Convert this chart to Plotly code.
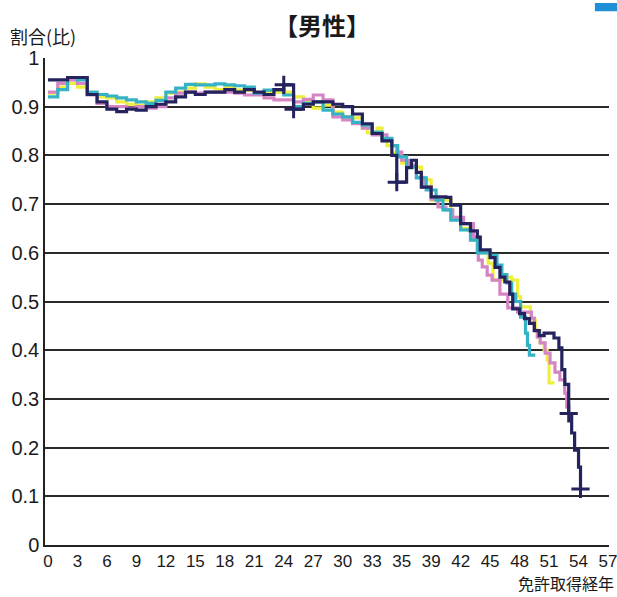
import plotly.graph_objects as go

# ---- data -------------------------------------------------------------
navy_x = [0, 1, 2, 3, 4, 5, 6, 7, 8, 9, 10, 11, 12, 13, 14, 15, 16, 17, 18, 19, 20,
          21, 22, 23, 24, 25, 26, 27, 28, 29, 30, 31, 32, 33, 34, 35, 35.5, 36.5, 37,
          37.5, 38, 39, 40.5, 41, 42, 43, 43.7, 44, 45, 45.5, 46, 46.5, 47, 47.3, 48,
          48.5, 49, 49.5, 50, 50.5, 51.5, 52, 52.3, 52.6, 53, 53.3, 53.6, 54, 54.2]
navy_y = [0.955, 0.955, 0.96, 0.96, 0.925, 0.91, 0.895, 0.89, 0.895, 0.893, 0.9, 0.905,
          0.91, 0.92, 0.93, 0.925, 0.93, 0.93, 0.935, 0.93, 0.935, 0.93, 0.925, 0.935,
          0.945, 0.895, 0.905, 0.91, 0.91, 0.905, 0.9, 0.885, 0.865, 0.845, 0.83, 0.80,
          0.745, 0.775, 0.79, 0.765, 0.735, 0.715, 0.714, 0.698, 0.66, 0.645, 0.632,
          0.606, 0.59, 0.57, 0.55, 0.54, 0.515, 0.485, 0.475, 0.465, 0.455, 0.44, 0.43,
          0.435, 0.425, 0.405, 0.36, 0.33, 0.27, 0.23, 0.195, 0.16, 0.115]

cyan_x = [0, 1, 2, 3, 4, 5, 6, 7, 8, 9, 10, 11, 12, 13, 14, 15, 16, 17, 18, 19, 20,
          21, 22, 23, 24, 25, 26, 27, 28, 29, 30, 31, 32, 33, 34, 35, 35.6, 36.5, 37.5,
          38.5, 39.5, 40.2, 41, 42, 43, 43.7, 44.3, 45, 45.7, 46.2, 46.7, 47.2, 47.6,
          48.1, 48.6, 48.8, 49, 49.6]
cyan_y = [0.92, 0.935, 0.96, 0.955, 0.93, 0.925, 0.922, 0.918, 0.914, 0.91, 0.907,
          0.913, 0.93, 0.938, 0.946, 0.945, 0.945, 0.947, 0.945, 0.943, 0.94, 0.928,
          0.934, 0.935, 0.924, 0.9, 0.907, 0.91, 0.893, 0.885, 0.879, 0.868, 0.862,
          0.848, 0.835, 0.82, 0.797, 0.776, 0.754, 0.729, 0.708, 0.688, 0.667, 0.647,
          0.626, 0.6, 0.6, 0.595, 0.575, 0.555, 0.538, 0.515, 0.5, 0.468, 0.435, 0.41,
          0.39, 0.39]

pink_x = [0, 1, 2, 3, 4, 5, 6, 7, 8, 9, 10, 11, 12, 13, 14, 15, 16, 17, 18, 19, 20,
          21, 22, 23, 24, 25, 26, 27, 28, 29, 30, 31, 32, 33, 34.5, 35, 35.5, 36, 36.7,
          37.5, 38.2, 39, 39.7, 40.5, 41.2, 42.3, 43.3, 43.8, 44.2, 44.7, 45.2, 46,
          46.8, 47.8, 48.9, 49.2, 49.5, 49.8, 50.1, 50.6, 51.1, 51.6, 52.1, 52.6, 52.8,
          53]
pink_y = [0.93, 0.948, 0.955, 0.948, 0.924, 0.907, 0.9, 0.9, 0.897, 0.9, 0.897, 0.9,
          0.918, 0.928, 0.93, 0.928, 0.93, 0.93, 0.93, 0.928, 0.924, 0.924, 0.918,
          0.914, 0.914, 0.91, 0.915, 0.924, 0.914, 0.879, 0.873, 0.865, 0.856, 0.842,
          0.832, 0.82, 0.807, 0.79, 0.78, 0.755, 0.735, 0.71, 0.694, 0.688, 0.673,
          0.66, 0.632, 0.585, 0.571, 0.554, 0.544, 0.515, 0.487, 0.478, 0.478, 0.466,
          0.441, 0.427, 0.415, 0.394, 0.374, 0.355, 0.339, 0.312, 0.283, 0.283]

yellow_x = [0, 1, 2, 3, 4, 5, 6, 7, 8, 9, 10, 11, 12, 13, 14, 15, 16, 17, 18, 19, 20,
            21, 22, 23, 24, 25, 26, 27, 28, 29, 30, 31, 32, 32.5, 33.5, 34, 34.5, 35,
            36, 37, 38, 39, 40, 41, 42, 42.7, 43.3, 44, 44.8, 45.3, 46.7, 47.2, 47.8,
            48.1, 49.1, 49.6, 50.1, 50.5, 50.8, 51, 51.4]
yellow_y = [0.928, 0.94, 0.948, 0.94, 0.928, 0.92, 0.918, 0.91, 0.905, 0.903, 0.91,
            0.918, 0.928, 0.93, 0.938, 0.947, 0.94, 0.935, 0.94, 0.934, 0.934, 0.928,
            0.93, 0.93, 0.93, 0.92, 0.91, 0.897, 0.903, 0.889, 0.879, 0.877, 0.856,
            0.846, 0.856, 0.835, 0.82, 0.805, 0.784, 0.776, 0.75, 0.708, 0.708, 0.673,
            0.65, 0.647, 0.626, 0.6, 0.579, 0.544, 0.55, 0.544, 0.51, 0.489, 0.462,
            0.44, 0.415, 0.4, 0.38, 0.333, 0.33]

# censor marks on the navy series
mark_x = [24, 25, 35.5, 53, 54.2]
mark_y = [0.945, 0.895, 0.745, 0.27, 0.115]

x_tickvals = [0, 3, 6, 9, 12, 15, 18, 21, 24, 27, 30, 33, 36, 39, 42, 45, 48, 51, 54, 57]
x_ticktext = ["0", "3", "6", "9", "12", "15", "18", "21", "24", "27", "30", "33", "35",
              "39", "42", "45", "48", "51", "54", "57"]
y_tickvals = [0, 0.1, 0.2, 0.3, 0.4, 0.5, 0.6, 0.7, 0.8, 0.9, 1]
y_ticktext = ["0", "0.1", "0.2", "0.3", "0.4", "0.5", "0.6", "0.7", "0.8", "0.9", "1"]

NAVY = "#24235e"
CYAN = "#36b2c6"
PINK = "#d585c4"
YELLOW = "#eeee3c"

fig = go.Figure()
for xs, ys, col in [(yellow_x, yellow_y, YELLOW), (pink_x, pink_y, PINK),
                    (cyan_x, cyan_y, CYAN), (navy_x, navy_y, NAVY)]:
    fig.add_trace(go.Scatter(x=xs, y=ys, mode="lines",
                             line=dict(color=col, width=3.2, shape="hv"),
                             showlegend=False, hoverinfo="skip"))

fig.add_trace(go.Scatter(x=mark_x, y=mark_y, mode="markers",
                         marker=dict(symbol="cross-thin", size=13,
                                     line=dict(color=NAVY, width=3)),
                         showlegend=False, hoverinfo="skip"))

fig.update_layout(
    width=617, height=597,
    margin=dict(l=45, r=8, t=58, b=52),
    paper_bgcolor="white", plot_bgcolor="white",
    font=dict(family="Liberation Sans, Arial, sans-serif", color="#1a1a1a"),
    xaxis=dict(range=[-0.3, 57.1], tickvals=x_tickvals, ticktext=x_ticktext,
               showgrid=False, zeroline=False, showline=True,
               linecolor="#222", linewidth=2, ticks="", automargin=False,
               ticklabeloverflow="allow",
               tickfont=dict(family="Liberation Sans Narrow, Liberation Sans",
                             size=17, color="#1a1a1a")),
    yaxis=dict(range=[0, 1], tickvals=y_tickvals, ticktext=y_ticktext,
               showgrid=True, gridcolor="#2a2a2a", gridwidth=1.5, automargin=False,
               zeroline=False, showline=True, linecolor="#222", linewidth=1.5,
               ticks="", tickfont=dict(size=20, color="#1a1a1a")),
    annotations=[
        dict(text="<b>【男性】</b>", xref="paper", yref="paper",
             x=0.491, y=1.068, xanchor="center", yanchor="middle", showarrow=False,
             font=dict(family="Noto Sans CJK JP", size=24, color="#1a1a1a")),
        dict(text="割合(比)", xref="paper", yref="paper",
             x=-0.0656, y=1.046, xanchor="left", yanchor="middle", showarrow=False,
             font=dict(family="Noto Sans CJK JP", size=18, color="#1a1a1a")),
        dict(text="免許取得経年", xref="paper", yref="paper",
             x=1.0124, y=-0.079, xanchor="right", yanchor="middle", showarrow=False,
             font=dict(family="Noto Sans CJK JP", size=16, color="#1a1a1a")),
    ],
    shapes=[
        dict(type="rect", xref="paper", yref="paper", x0=0.975, x1=1.03,
             y0=1.096, y1=1.113, fillcolor="#1f8fd6", line=dict(width=0)),
    ],
)

fig.write_html("out.html")
